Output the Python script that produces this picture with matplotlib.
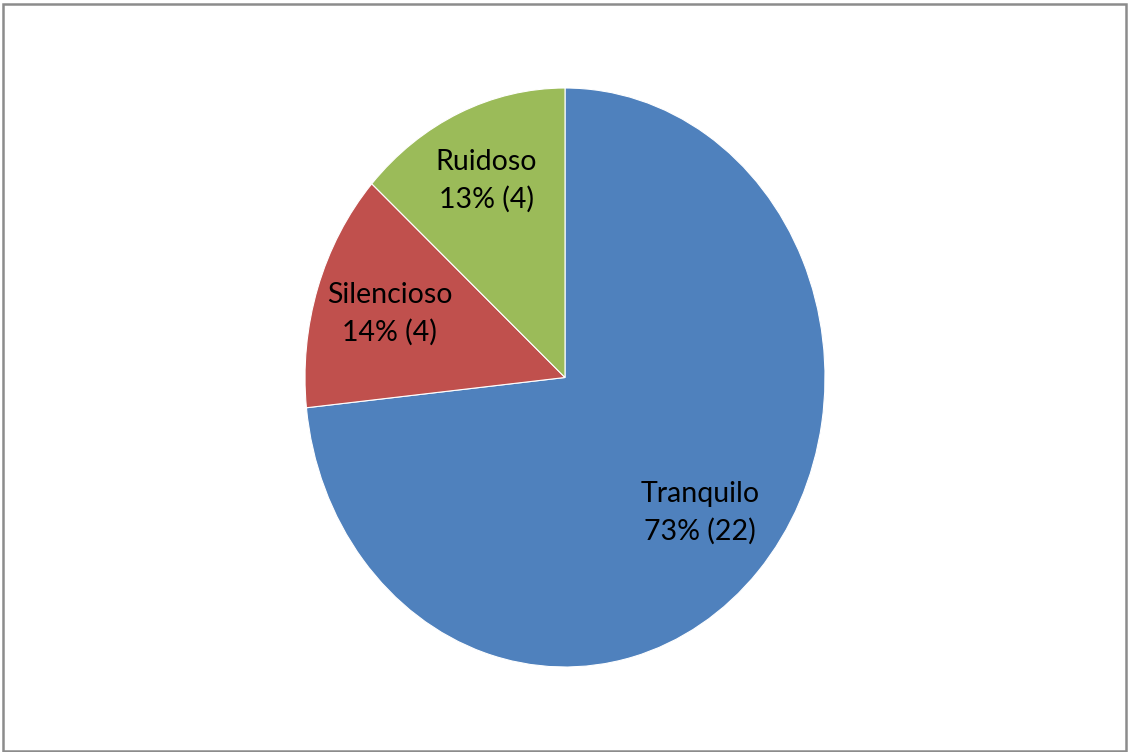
import numpy as np
import matplotlib
matplotlib.use('Agg')
import matplotlib.pyplot as plt

labels = ["Tranquilo", "Silencioso", "Ruidoso"]
counts = [22, 4, 4]
percents = [73, 14, 13]       # percentages shown on the labels
colors = ["#4F81BD", "#C0504D", "#9BBB59"]

plt.rcParams['font.family'] = ['Lato', 'DejaVu Sans']

fig = plt.figure(figsize=(11.28, 7.52), dpi=100)
ax = fig.add_axes([305 / 1128, 85 / 752, 520 / 1128, 579 / 752])

wedges, _ = ax.pie(counts, colors=colors, startangle=90, counterclock=False,
                   wedgeprops=dict(edgecolor="white", linewidth=0.8))
ax.set_aspect('auto')
ax.set_xlim(-1, 1)
ax.set_ylim(-1, 1)

label_r = [0.70, 0.71, 0.745]
for w, name, p, c, r in zip(wedges, labels, percents, counts, label_r):
    mid = np.deg2rad((w.theta1 + w.theta2) / 2)
    ax.text(r * np.cos(mid), r * np.sin(mid), f"{name}\n{p}% ({c})",
            ha="center", va="center", multialignment="center",
            fontsize=20.5, linespacing=1.5, color="black")

# chart border
border = plt.Rectangle((2.5 / 1128, 1.5 / 752), 1123 / 1128, 747 / 752,
                       transform=fig.transFigure, fill=False,
                       edgecolor="#8C8C8C", linewidth=1.8)
fig.patches.append(border)

fig.savefig("out.png", dpi=100)
